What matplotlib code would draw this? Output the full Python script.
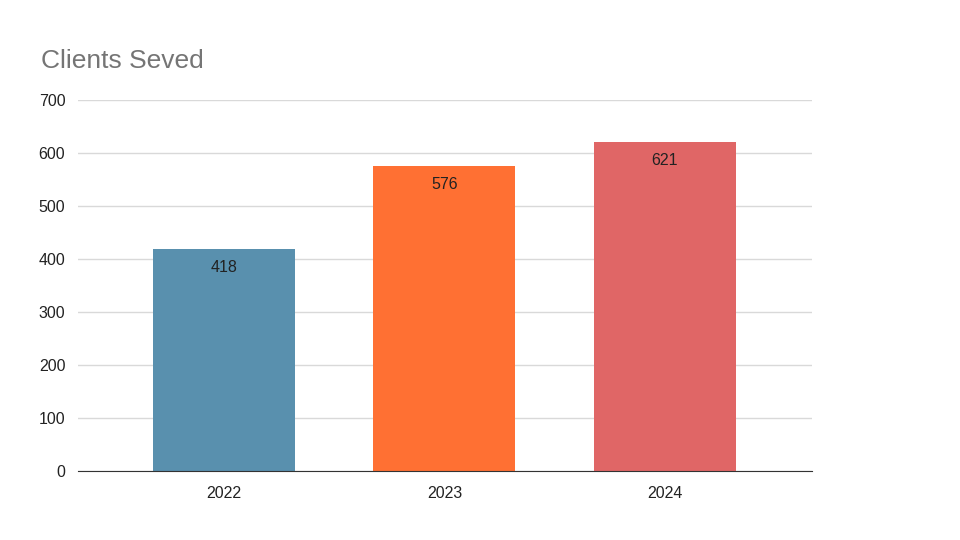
import matplotlib.pyplot as plt

plt.rcParams["font.family"] = ["Liberation Sans", "DejaVu Sans"]

years = ["2022", "2023", "2024"]
clients = [418, 576, 621]
colors = ["#5990ae", "#ff7033", "#e06666"]

fig = plt.figure(figsize=(9.6, 5.4), dpi=100)
ax = fig.add_axes([0.081, 0.128, 0.765, 0.687])

bars = ax.bar(years, clients, width=0.645, color=colors, zorder=2)
for b, v in zip(bars, clients):
    ax.annotate(str(v), (b.get_x() + b.get_width() / 2, v), xytext=(0, -8),
                textcoords="offset points", ha="center", va="top",
                fontsize=11.5, color="#222222", zorder=3)

ax.set_ylim(0, 700)
ax.set_xlim(-0.665, 2.67)
ax.set_yticks(range(0, 701, 100))
ax.grid(axis="y", color="#d9d9d9", linewidth=1, zorder=0)
for s in ["top", "right", "left"]:
    ax.spines[s].set_visible(False)
ax.spines["bottom"].set_color("#333333")
ax.spines["bottom"].set_zorder(3)
ax.tick_params(length=0, labelsize=11.5, labelcolor="#222222")
ax.tick_params(axis="x", pad=11)
ax.tick_params(axis="y", pad=9)

fig.text(0.043, 0.874, "Clients Seved", fontsize=19, color="#757575", va="baseline")

fig.savefig("out.png", dpi=100)
